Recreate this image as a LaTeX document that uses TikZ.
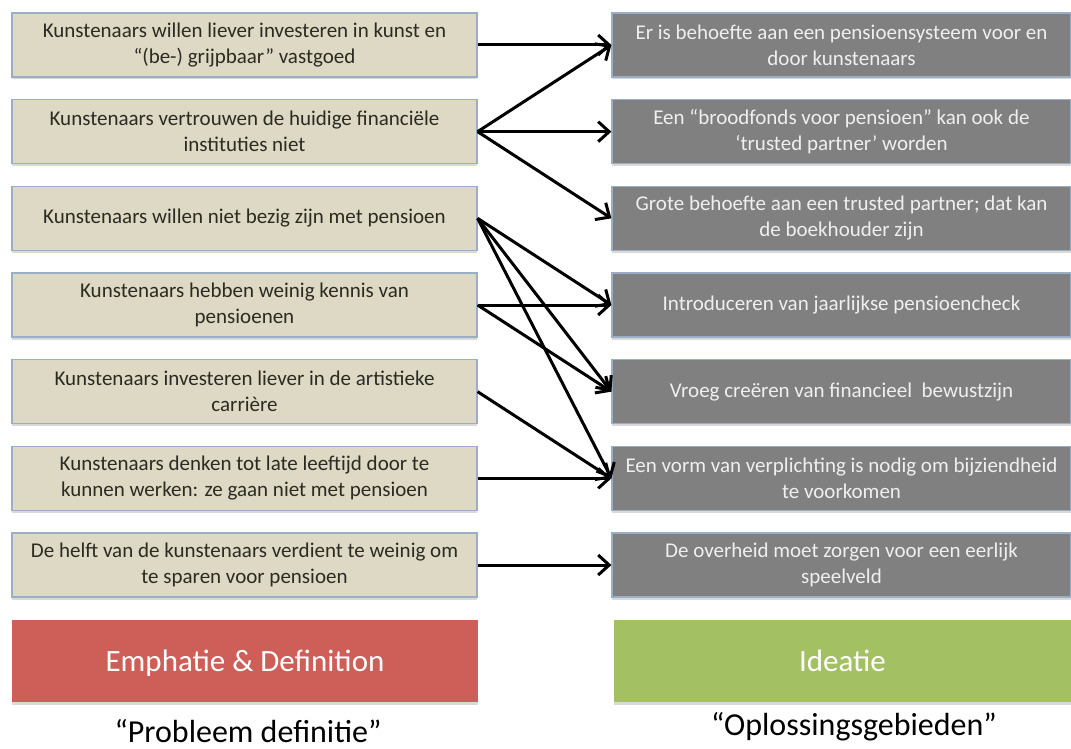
\documentclass[tikz,border=0pt]{standalone}
\usepackage{fontspec}
\setmainfont{Carlito}
\usetikzlibrary{arrows.meta,shadows}
\definecolor{probfill}{HTML}{DDD9C4}
\definecolor{probtext}{HTML}{2B2B22}
\definecolor{boxline}{HTML}{9AAEC6}
\definecolor{oplfill}{HTML}{808080}
\definecolor{opltext}{HTML}{EFEFEF}
\definecolor{empred}{HTML}{CD5E58}
\definecolor{ideagreen}{HTML}{A3C062}

\begin{document}
\begin{tikzpicture}[x=1pt,y=-1pt,
        probleem/.style={draw=boxline, line width=1.2pt, fill=probfill, text=probtext,
            minimum width=465pt, minimum height=64pt, align=center,
            font=\fontsize{21}{26}\selectfont,
            drop shadow={opacity=0.3, shadow xshift=0pt, shadow yshift=-2.5pt}},
        oplossing/.style={probleem, fill=oplfill, text=opltext, minimum width=459pt},
        fase/.style={minimum width=466pt, minimum height=82pt, text=white, text depth=0pt,
            font=\fontsize{31}{36}\selectfont,
            drop shadow={opacity=0.3, shadow xshift=0pt, shadow yshift=-2.5pt}},
        pijl/.style={line width=3pt, -{Straight Barb[length=11pt,width=20pt]}}]
        \useasboundingbox (0,0) rectangle (1071,749);
        % problemen (links)
        \foreach \tekst [count=\i] in {
            {Kunstenaars willen liever investeren in kunst en\\“(be-) grijpbaar” vastgoed},
            {Kunstenaars vertrouwen de huidige financiële\\instituties niet},
            {Kunstenaars willen niet bezig zijn met pensioen},
            {Kunstenaars hebben weinig kennis van\\pensioenen},
            {Kunstenaars investeren liever in de artistieke\\carrière},
            {Kunstenaars denken tot late leeftijd door te\\kunnen werken: ze gaan niet met pensioen},
            {De helft van de kunstenaars verdient te weinig om\\te sparen voor pensioen}} {
            \node[probleem] (p\i) at (244.5, {45+86.67*(\i-1)}) {\tekst};}
        % oplossingen (rechts)
        \foreach \tekst [count=\i] in {
            {Er is behoefte aan een pensioensysteem voor en\\door kunstenaars},
            {Een “broodfonds voor pensioen” kan ook de\\‘trusted partner’ worden},
            {Grote behoefte aan een trusted partner; dat kan\\de boekhouder zijn},
            {Introduceren van jaarlijkse pensioencheck},
            {Vroeg creëren van financieel\ \ bewustzijn},
            {Een vorm van verplichting is nodig om bijziendheid\\te voorkomen},
            {De overheid moet zorgen voor een eerlijk\\speelveld}} {
            \node[oplossing] (o\i) at (841.5, {45+86.67*(\i-1)}) {\tekst};}
        % verbindingen
        \foreach \van/\naar in {1/1, 2/1, 2/2, 2/3, 3/4, 3/5, 3/6, 4/4, 4/5, 5/6, 6/6, 7/7} {
            \draw[pijl] (p\van.east) -- (o\naar.west);}
        % fasen
        \node[fase, fill=empred] (emp) at (245,661) {Emphatie \& Definition};
        \node[fase, fill=ideagreen, minimum width=457pt] (idea) at (842.5,661) {Ideatie};
        \node[font=\fontsize{32}{36}\selectfont] (probdef) at (248,731) {“Probleem definitie”};
        \node[font=\fontsize{32}{36}\selectfont] (oplgeb) at (854,727) {“Oplossingsgebieden”};
        \end{tikzpicture}
\end{document}
